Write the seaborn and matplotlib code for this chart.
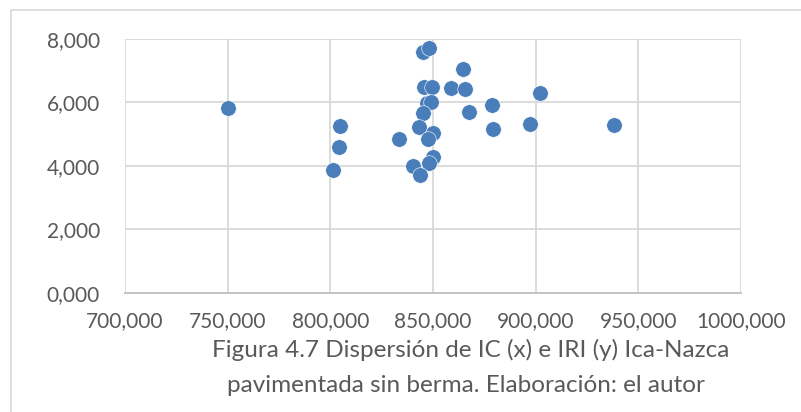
import matplotlib
matplotlib.use("Agg")
import matplotlib.pyplot as plt
from matplotlib.lines import Line2D
from matplotlib.ticker import FuncFormatter
import seaborn as sns
import pandas as pd

# IC (x) and IRI (y) for the Ica-Nazca paved section without shoulder
ic = [750.0, 804.5, 804.0, 801.1, 833.2, 845.3, 848.2, 864.5, 845.5, 849.3,
      858.6, 865.7, 847.0, 849.0, 845.0, 867.7, 878.6, 902.2, 879.1, 897.2,
      843.1, 849.9, 847.4, 850.2, 848.2, 840.2, 843.5, 938.0]
iri = [5.82, 5.26, 4.59, 3.87, 4.85, 7.60, 7.71, 7.06, 6.48, 6.48,
       6.45, 6.43, 5.97, 6.02, 5.66, 5.71, 5.91, 6.29, 5.17, 5.31,
       5.24, 5.05, 4.85, 4.27, 4.08, 4.01, 3.71, 5.29]

x_ticks = [700, 750, 800, 850, 900, 950, 1000]
y_ticks = [0, 2, 4, 6, 8]
caption = ["Figura 4.7 Dispersión de IC (x) e IRI (y) Ica-Nazca",
           "pavimentada sin berma. Elaboración: el autor"]

df = pd.DataFrame({"IC": ic, "IRI": iri})

sns.set_theme(style="white")
plt.rcParams["font.family"] = ["Lato", "DejaVu Sans"]

W, H = 801, 412
fig = plt.figure(figsize=(W / 100, H / 100), dpi=100)
ax = fig.add_axes([125 / W, 1 - 292.7 / H, (741 - 125) / W, (292.7 - 39) / H])

sns.scatterplot(data=df, x="IC", y="IRI", ax=ax, s=125, color="#4a7ebb",
                edgecolor="white", linewidth=0.4, zorder=3, legend=False)

ax.set_xlim(700, 1000)
ax.set_ylim(0, 8)
ax.set_xticks(x_ticks)
ax.set_yticks(y_ticks)

comma = FuncFormatter(lambda v, p: f"{v:.3f}".replace(".", ","))
ax.xaxis.set_major_formatter(comma)
ax.yaxis.set_major_formatter(comma)

ax.grid(True, color="#d9d9d9", linewidth=1.3, zorder=0)
ax.set_axisbelow(True)
for side in ["top", "left", "right"]:
    ax.spines[side].set_visible(False)
ax.spines["bottom"].set_color("#bfbfbf")
ax.spines["bottom"].set_linewidth(1.3)
ax.tick_params(axis="both", length=0, labelsize=15, labelcolor="#595959")
ax.tick_params(axis="x", pad=13)
ax.tick_params(axis="y", pad=18)
ax.set_xlabel("")
ax.set_ylabel("")

# chart frame (top and left edges)
fig.add_artist(Line2D([10.5 / W, 10.5 / W], [0, 1 - 10 / H], transform=fig.transFigure,
                      color="#d9d9d9", linewidth=1.2))
fig.add_artist(Line2D([10.5 / W, 1], [1 - 10 / H, 1 - 10 / H], transform=fig.transFigure,
                      color="#d9d9d9", linewidth=1.2))

fig.text(471 / W, 1 - 350 / H, caption[0], ha="center", va="center",
         fontsize=17.5, color="#595959")
fig.text(466 / W, 1 - 385 / H, caption[1], ha="center", va="center",
         fontsize=17.5, color="#595959")

fig.savefig("out.png", dpi=100)
